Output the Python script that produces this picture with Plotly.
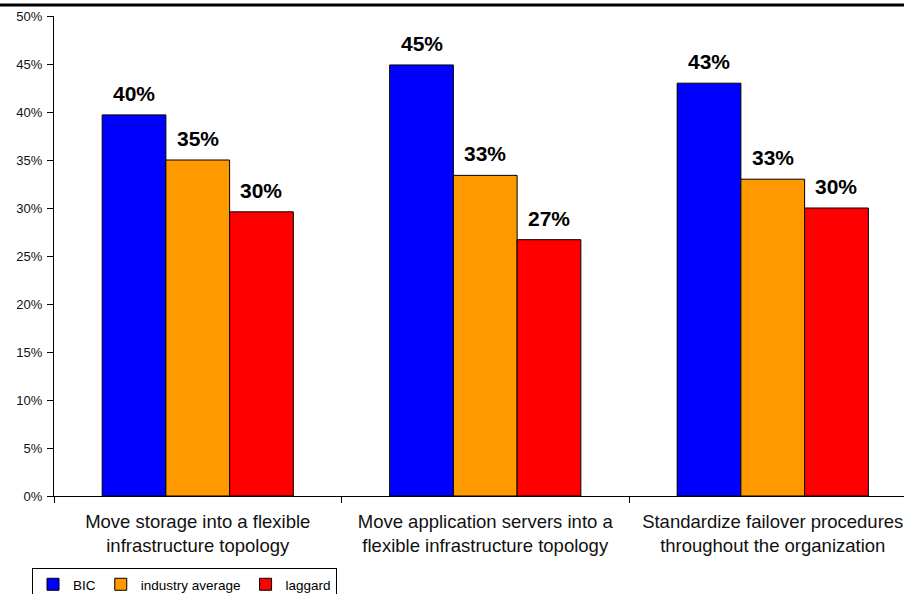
import plotly.graph_objects as go

categories = [
    "Move storage into a flexible<br>infrastructure topology",
    "Move application servers into a<br>flexible infrastructure topology",
    "Standardize failover procedures<br>throughout the organization",
]
series_names = ["BIC", "industry average", "laggard"]
bic = [39.7, 44.9, 43.0]
industry_average = [35.0, 33.4, 33.0]
laggard = [29.6, 26.7, 30.0]
series_values = [bic, industry_average, laggard]
colors = ["#0000FF", "#FF9900", "#FF0000"]
y_ticks = [0, 5, 10, 15, 20, 25, 30, 35, 40, 45, 50]
y_tick_labels = [f"{v}%" for v in y_ticks]

W, H = 904, 594
ml, mr, mt, mb = 54, 0, 16, 98
cat_px = 287.5
bargap = 0.335
bar_px = cat_px * (1 - bargap) / 3

fig = go.Figure()
for name, vals, col in zip(series_names, series_values, colors):
    fig.add_trace(go.Bar(
        x=categories, y=vals, name=name,
        marker=dict(color=col, line=dict(color="#000000", width=1)),
    ))

annotations = []
for i, vals in enumerate(series_values):
    for cat, v in zip(categories, vals):
        annotations.append(dict(
            x=cat, y=v, xref="x", yref="y",
            text=f"<b>{round(v)}%</b>", showarrow=False,
            xanchor="center", yanchor="bottom",
            xshift=(i - 1) * bar_px, yshift=8,
            font=dict(family="Liberation Sans, Arial", size=21, color="#000000"),
        ))

fig.update_layout(
    width=W, height=H,
    margin=dict(l=ml, r=mr, t=mt, b=mb, autoexpand=False),
    paper_bgcolor="white", plot_bgcolor="white",
    barmode="group", bargap=bargap, bargroupgap=0,
    font=dict(family="Liberation Sans, Arial", color="#000000"),
    showlegend=True,
    legend=dict(
        orientation="h", x=(32 - ml) / (W - ml - mr), xanchor="left",
        y=(H - mb - 568) / (H - mt - mb), yanchor="top",
        bordercolor="#000000", borderwidth=1, bgcolor="white",
        font=dict(size=13.5, color="#000000"),
        itemwidth=30, tracegroupgap=0,
    ),
    xaxis=dict(
        type="category", range=[-0.5, -0.5 + (W - ml - mr) / cat_px],
        tickson="boundaries", ticks="outside", ticklen=6, tickcolor="#000000",
        showline=True, linecolor="#000000", linewidth=1,
        showgrid=False, zeroline=False,
        tickfont=dict(size=18.5, color="#111111"),
        ticklabelstandoff=9,
        ticklabeloverflow="allow", automargin=False,
    ),
    yaxis=dict(
        range=[0, 50], tickvals=y_ticks, ticktext=y_tick_labels,
        ticks="outside", ticklen=6, tickcolor="#000000",
        showline=True, linecolor="#000000", linewidth=1,
        showgrid=False, zeroline=False,
        tickfont=dict(size=13, color="#111111"),
        ticklabelstandoff=2,
        automargin=False,
    ),
    annotations=annotations,
    shapes=[dict(
        type="line", xref="paper", yref="paper",
        x0=-ml / (W - ml - mr), x1=1, y0=(H - mb - 5) / (H - mt - mb), y1=(H - mb - 5) / (H - mt - mb),
        line=dict(color="#000000", width=3),
    )],
)

fig.write_html("out.html")
